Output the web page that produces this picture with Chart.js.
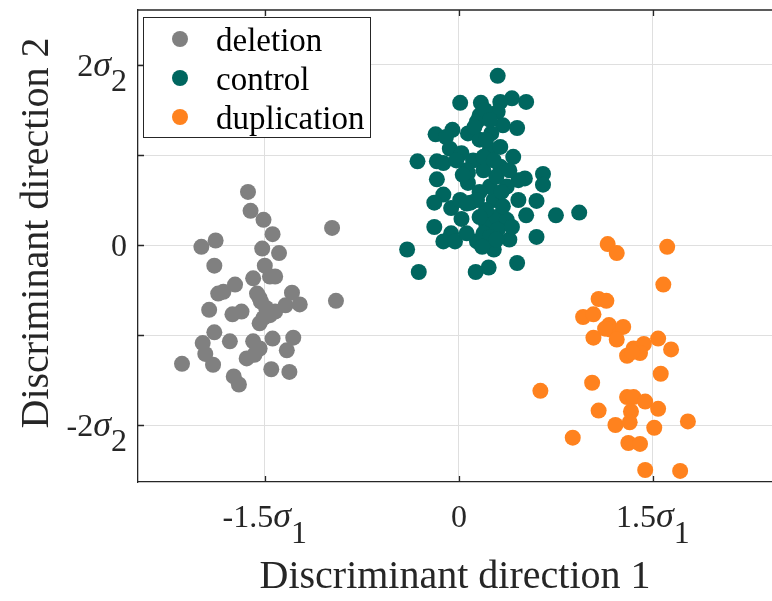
<!DOCTYPE html>
<html>
<head>
<meta charset="utf-8">
<script src="https://cdn.jsdelivr.net/npm/chart.js@4"></script>
<style>
  body { margin: 0; background: #fff; }
  #wrap { width: 772px; height: 601px; }
</style>
</head>
<body>
<div id="wrap"><canvas id="ldaChart" width="772" height="601"></canvas></div>
<script>
const seriesNames = ["deletion", "control", "duplication"];
const seriesColors = ["#808080", "#00665f", "#ff821e"];

const deletionX = [-1.63, -1.61, -1.51, -1.44, -0.98, -1.99, -1.88, -1.52, -1.39, -1.89, -1.50, -1.59, -1.46, -1.42, -1.73, -1.82, -1.86, -1.56, -1.29, -1.23, -1.34, -0.95, -1.93, -1.68, -1.75, -1.53, -1.49, -1.42, -1.51, -1.54, -1.89, -1.98, -1.77, -1.59, -1.44, -1.28, -1.54, -1.96, -1.33, -1.64, -1.58, -2.14, -1.90, -1.45, -1.31, -1.74, -1.70, -1.54, -1.46, -1.56];
const deletionY = [0.59, 0.38, 0.28, 0.12, 0.19, -0.02, 0.05, -0.04, -0.09, -0.23, -0.23, -0.37, -0.35, -0.35, -0.44, -0.52, -0.54, -0.54, -0.53, -0.66, -0.67, -0.62, -0.72, -0.74, -0.77, -0.63, -0.70, -0.74, -0.81, -0.87, -0.97, -1.09, -1.07, -1.07, -1.04, -1.03, -1.15, -1.21, -1.17, -1.26, -1.22, -1.32, -1.33, -1.38, -1.41, -1.46, -1.55, -0.59, -0.78, -1.17];

const controlX = [0.30, 0.01, 0.17, 0.41, 0.52, 0.32, 0.30, 0.16, 0.45, -0.18, -0.05, 0.34, 0.14, 0.07, 0.25, -0.07, 0.16, -0.32, -0.17, -0.12, 0.42, 0.02, 0.24, -0.17, 0.07, 0.19, 0.32, 0.65, 0.65, 0.51, 0.46, 0.07, 0.37, -0.12, -0.19, -0.06, 0.02, 0.09, 0.27, 0.46, 0.60, 0.52, 0.75, 0.93, -0.19, -0.06, -0.12, -0.03, 0.14, 0.27, 0.39, 0.60, -0.40, -0.31, 0.13, 0.23, 0.45, 0.21, 0.29, 0.37, 0.19, 0.30, 0.06, 0.24, 0.16, 0.29, 0.11, 0.19, 0.27, 0.06, 0.21, 0.32, 0.34, 0.21, 0.14, 0.16, 0.24, 0.41, 0.33, 0.39, -0.02, -0.10, 0.01, 0.03, 0.20, 0.12, 0.24, 0.06, 0.29, 0.18];
const controlY = [1.88, 1.58, 1.58, 1.63, 1.59, 1.59, 1.48, 1.44, 1.30, 1.23, 1.28, 1.33, 1.37, 1.24, 1.24, 1.07, 1.17, 0.93, 0.93, 0.91, 0.98, 1.02, 1.06, 0.73, 0.80, 0.83, 0.87, 0.79, 0.67, 0.74, 0.72, 0.69, 0.65, 0.56, 0.47, 0.41, 0.29, 0.47, 0.50, 0.50, 0.49, 0.33, 0.33, 0.36, 0.20, 0.13, 0.04, 0.04, 0.04, -0.05, 0.06, 0.09, -0.05, -0.30, -0.30, -0.25, -0.20, 0.24, 0.31, 0.28, 0.13, 0.17, 0.13, 0.65, 0.59, 0.76, 0.94, 0.98, 0.94, 0.83, 1.17, 1.09, 0.43, 0.39, 0.50, 0.31, 0.09, 0.20, 0.59, 0.83, 0.94, 1.20, 0.50, 0.78, 1.50, 1.31, 1.39, 0.46, 0.06, -0.02];

const duplicationX = [1.15, 1.22, 1.61, 1.58, 1.08, 1.14, 0.96, 1.04, 1.16, 1.17, 1.27, 1.22, 1.04, 1.54, 1.64, 1.43, 1.35, 1.40, 1.30, 1.34, 1.56, 1.03, 0.63, 1.30, 1.35, 1.44, 1.54, 1.33, 1.08, 1.21, 1.32, 1.51, 1.77, 0.88, 1.31, 1.40, 1.44, 1.71, 1.13];
const duplicationY = [0.01, -0.09, -0.02, -0.44, -0.60, -0.62, -0.80, -0.77, -0.89, -0.94, -0.91, -1.05, -1.03, -1.04, -1.16, -1.10, -1.15, -1.20, -1.23, -1.19, -1.43, -1.53, -1.62, -1.69, -1.69, -1.74, -1.82, -1.85, -1.84, -2.00, -1.97, -2.03, -1.96, -2.14, -2.20, -2.21, -2.50, -2.51, -0.93];

const xTickValues = [-1.5, 0, 1.5];
const xTickLabels = ["-1.5σ_1", "0", "1.5σ_1"];
const yTickValues = [-2, -1, 0, 1, 2];
const yTickLabels = ["-2σ_2", "", "0", "", "2σ_2"];

const xTitle = "Discriminant direction 1";
const yTitle = "Discriminant direction 2";

const serif = '"Liberation Serif", "Times New Roman", serif';
const axisColor = "#262626";
const gridColor = "#dfdfdf";
const tickSize = 32;

function toPoints(xs, ys) {
  return xs.map((v, i) => ({ x: v, y: ys[i] }));
}

// sigma is drawn in italic and a bit larger, like the tex labels of the original
function textRuns(ctx, text) {
  return text.split(/(σ)/).filter(Boolean).map(t => {
    const font = t === "σ" ? "italic 36px " + serif : tickSize + "px " + serif;
    ctx.font = font;
    return { t, font, w: ctx.measureText(t).width };
  });
}

function drawSubLabel(ctx, text, x, y, align, subDrop) {
  const [main, sub = ""] = text.split("_");
  const runs = textRuns(ctx, main);
  if (sub) {
    ctx.font = tickSize + "px " + serif;
    runs.push({ t: sub, font: ctx.font, w: ctx.measureText(sub).width, sub: true });
  }
  const total = runs.reduce((s, r) => s + r.w, 0);
  let left = x;
  if (align === "center") left = x - total / 2;
  if (align === "right") left = x - total;
  runs.forEach(r => {
    ctx.font = r.font;
    ctx.fillText(r.t, left, r.sub ? y + subDrop : y);
    left += r.w;
  });
}

const decorPlugin = {
  id: "decor",
  afterDraw(chart) {
    const { ctx, chartArea: a, scales: { x, y } } = chart;
    ctx.save();

    // top edge and inward ticks
    ctx.strokeStyle = axisColor;
    ctx.lineWidth = 1.3;
    ctx.beginPath();
    ctx.moveTo(a.left, a.top);
    ctx.lineTo(a.right, a.top);
    xTickValues.forEach(v => {
      const px = Math.round(x.getPixelForValue(v)) + 0.5;
      ctx.moveTo(px, a.bottom);
      ctx.lineTo(px, a.bottom - 6);
      ctx.moveTo(px, a.top);
      ctx.lineTo(px, a.top + 6);
    });
    yTickValues.forEach(v => {
      const py = Math.round(y.getPixelForValue(v)) + 0.5;
      ctx.moveTo(a.left, py);
      ctx.lineTo(a.left + 6, py);
    });
    ctx.stroke();

    // tick labels with subscripts
    ctx.fillStyle = axisColor;
    ctx.textAlign = "left";
    ctx.textBaseline = "alphabetic";
    xTickValues.forEach((v, i) => {
      drawSubLabel(ctx, xTickLabels[i], x.getPixelForValue(v), a.bottom + 45, "center", 16);
    });
    yTickValues.forEach((v, i) => {
      if (!yTickLabels[i]) return;
      drawSubLabel(ctx, yTickLabels[i], a.left - 11, y.getPixelForValue(v) + 11, "right", 15);
    });

    // y title
    ctx.save();
    ctx.translate(48, 233);
    ctx.rotate(-Math.PI / 2);
    ctx.font = "40px " + serif;
    ctx.textAlign = "center";
    ctx.fillText(yTitle, 0, 0);
    ctx.restore();

    // legend
    const bx = a.left + 5, by = a.top + 7, bw = 227, bh = 120;
    ctx.fillStyle = "#fff";
    ctx.fillRect(bx, by, bw, bh);
    ctx.strokeStyle = axisColor;
    ctx.lineWidth = 1;
    ctx.strokeRect(bx + 0.5, by + 0.5, bw, bh);
    ctx.font = "33px " + serif;
    ctx.textAlign = "left";
    chart.data.datasets.forEach((ds, i) => {
      const cy = by + 22 + i * 39;
      ctx.fillStyle = ds.backgroundColor;
      ctx.beginPath();
      ctx.arc(bx + 37, cy, 8, 0, Math.PI * 2);
      ctx.fill();
      ctx.fillStyle = "#000";
      ctx.fillText(ds.label, bx + 73, cy + 12);
    });

    ctx.restore();
  }
};

const ctx = document.getElementById("ldaChart").getContext("2d");
new Chart(ctx, {
  type: "scatter",
  data: {
    datasets: [
      { label: seriesNames[0], data: toPoints(deletionX, deletionY), backgroundColor: seriesColors[0] },
      { label: seriesNames[1], data: toPoints(controlX, controlY), backgroundColor: seriesColors[1] },
      { label: seriesNames[2], data: toPoints(duplicationX, duplicationY), backgroundColor: seriesColors[2] }
    ]
  },
  options: {
    responsive: false,
    animation: false,
    devicePixelRatio: 1,
    layout: { autoPadding: false, padding: { top: 10, right: 0, bottom: 0, left: 0 } },
    elements: { point: { radius: 8, borderWidth: 0, hoverRadius: 8 } },
    plugins: { legend: { display: false }, tooltip: { enabled: false } },
    scales: {
      x: {
        type: "linear",
        min: -2.48,
        max: 2.42,
        afterBuildTicks: s => { s.ticks = xTickValues.map(v => ({ value: v })); },
        afterFit: s => { s.height = 119; },
        ticks: { display: false },
        grid: { color: gridColor, lineWidth: 1, drawTicks: false },
        border: { color: axisColor, width: 1.3 },
        title: { display: true, text: xTitle, color: axisColor, font: { family: serif, size: 40 }, padding: { top: 0, bottom: 0 } }
      },
      y: {
        type: "linear",
        min: -2.633,
        max: 2.611,
        afterBuildTicks: s => { s.ticks = yTickValues.map(v => ({ value: v })); },
        afterFit: s => { s.width = 138; },
        ticks: { display: false },
        grid: { color: gridColor, lineWidth: 1, drawTicks: false },
        border: { color: axisColor, width: 1.3 },
        title: { display: false }
      }
    }
  },
  plugins: [decorPlugin]
});
</script>
</body>
</html>
